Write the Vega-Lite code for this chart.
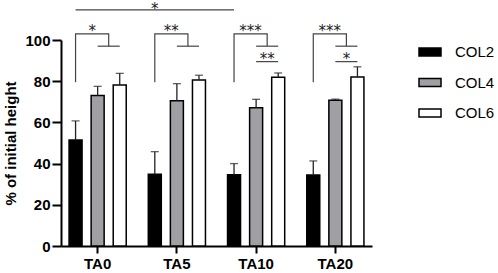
{
  "$schema": "https://vega.github.io/schema/vega-lite/v6.json",
  "width": 311,
  "height": 206,
  "autosize": {"type": "none"},
  "padding": {"left": 61, "top": 40, "right": 126, "bottom": 27},
  "config": {"view": {"stroke": null}, "font": "Liberation Sans"},
  "datasets": {
    "bars": [
      {"group": "TA0", "series": "COL2", "value": 51.5, "upper": 60.7},
      {"group": "TA0", "series": "COL4", "value": 73, "upper": 77.5},
      {"group": "TA0", "series": "COL6", "value": 78.2, "upper": 83.8},
      {"group": "TA5", "series": "COL2", "value": 34.8, "upper": 45.8},
      {"group": "TA5", "series": "COL4", "value": 70.5, "upper": 78.8},
      {"group": "TA5", "series": "COL6", "value": 80.6, "upper": 82.9},
      {"group": "TA10", "series": "COL2", "value": 34.6, "upper": 40},
      {"group": "TA10", "series": "COL4", "value": 67.1, "upper": 71.2},
      {"group": "TA10", "series": "COL6", "value": 81.9, "upper": 84},
      {"group": "TA20", "series": "COL2", "value": 34.5, "upper": 41.3},
      {"group": "TA20", "series": "COL4", "value": 70.8, "upper": 71.3},
      {"group": "TA20", "series": "COL6", "value": 82, "upper": 87}
    ],
    "brackets": [
      {"path": "b0", "order": 1, "group": "TA0", "pos": "COL2", "y": 79.5},
      {"path": "b0", "order": 2, "group": "TA0", "pos": "COL2", "y": 103},
      {"path": "b0", "order": 3, "group": "TA0", "pos": "p6", "y": 103},
      {"path": "b0", "order": 4, "group": "TA0", "pos": "p6", "y": 97},
      {"path": "h0", "order": 1, "group": "TA0", "pos": "COL4", "y": 97},
      {"path": "h0", "order": 2, "group": "TA0", "pos": "COL6", "y": 97},
      {"path": "b1", "order": 1, "group": "TA5", "pos": "COL2", "y": 79.5},
      {"path": "b1", "order": 2, "group": "TA5", "pos": "COL2", "y": 103},
      {"path": "b1", "order": 3, "group": "TA5", "pos": "p6", "y": 103},
      {"path": "b1", "order": 4, "group": "TA5", "pos": "p6", "y": 97},
      {"path": "h1", "order": 1, "group": "TA5", "pos": "COL4", "y": 97},
      {"path": "h1", "order": 2, "group": "TA5", "pos": "COL6", "y": 97},
      {"path": "b2", "order": 1, "group": "TA10", "pos": "COL2", "y": 79.5},
      {"path": "b2", "order": 2, "group": "TA10", "pos": "COL2", "y": 103},
      {"path": "b2", "order": 3, "group": "TA10", "pos": "p6", "y": 103},
      {"path": "b2", "order": 4, "group": "TA10", "pos": "p6", "y": 97},
      {"path": "h2", "order": 1, "group": "TA10", "pos": "COL4", "y": 97},
      {"path": "h2", "order": 2, "group": "TA10", "pos": "COL6", "y": 97},
      {"path": "s2", "order": 1, "group": "TA10", "pos": "COL4", "y": 89.5},
      {"path": "s2", "order": 2, "group": "TA10", "pos": "COL6", "y": 89.5},
      {"path": "b3", "order": 1, "group": "TA20", "pos": "COL2", "y": 79.5},
      {"path": "b3", "order": 2, "group": "TA20", "pos": "COL2", "y": 103},
      {"path": "b3", "order": 3, "group": "TA20", "pos": "p6", "y": 103},
      {"path": "b3", "order": 4, "group": "TA20", "pos": "p6", "y": 97},
      {"path": "h3", "order": 1, "group": "TA20", "pos": "COL4", "y": 97},
      {"path": "h3", "order": 2, "group": "TA20", "pos": "COL6", "y": 97},
      {"path": "s3", "order": 1, "group": "TA20", "pos": "COL4", "y": 89.5},
      {"path": "s3", "order": 2, "group": "TA20", "pos": "COL6", "y": 89.5},
      {"path": "top", "order": 1, "group": "TA0", "pos": "COL2", "y": 114.6},
      {"path": "top", "order": 2, "group": "TA10", "pos": "COL2", "y": 114.6}
    ],
    "stars": [
      {"group": "TA0", "pos": "p3", "y": 102, "label": "*"},
      {"group": "TA5", "pos": "p3", "y": 102, "label": "**"},
      {"group": "TA10", "pos": "p3", "y": 102, "label": "***"},
      {"group": "TA10", "pos": "p6", "y": 88.5, "label": "**"},
      {"group": "TA20", "pos": "p3", "y": 102, "label": "***"},
      {"group": "TA20", "pos": "p6", "y": 88.5, "label": "*"},
      {"group": "TA5", "pos": "COL2", "y": 112.6, "label": "*"}
    ]
  },
  "encoding": {
    "x": {
      "field": "group",
      "type": "nominal",
      "sort": ["TA0", "TA5", "TA10", "TA20"],
      "scale": {"domain": ["TA0", "TA5", "TA10", "TA20"], "paddingInner": 0.373, "paddingOuter": 0.149},
      "axis": {
        "title": null,
        "labelAngle": 0,
        "labelFont": "Liberation Sans",
        "labelFontWeight": "bold",
        "labelFontSize": 15,
        "labelColor": "black",
        "labelPadding": 3,
        "tickSize": 7,
        "tickWidth": 2,
        "tickColor": "black",
        "domainColor": "black",
        "domainWidth": 2
      }
    }
  },
  "layer": [
    {
      "data": {"name": "bars"},
      "mark": {"type": "bar", "width": 13, "stroke": "black", "strokeWidth": 1.5},
      "encoding": {
        "xOffset": {
          "field": "series",
          "type": "nominal",
          "scale": {"domain": ["COL2", "p1", "p2", "p3", "COL4", "p5", "p6", "p7", "COL6"], "paddingInner": 0, "paddingOuter": 0}
        },
        "y": {
          "field": "value",
          "type": "quantitative",
          "scale": {"domain": [0, 100], "nice": false},
          "axis": {
            "title": "% of initial height",
            "titleFont": "Liberation Sans",
            "titleFontSize": 15,
            "titleFontWeight": "bold",
            "titleColor": "black",
            "titlePadding": 6,
            "values": [0, 20, 40, 60, 80, 100],
            "grid": false,
            "labelFont": "Liberation Sans",
            "labelFontWeight": "bold",
            "labelFontSize": 15,
            "labelColor": "black",
            "labelPadding": 2,
            "tickSize": 9,
            "tickWidth": 2,
            "tickColor": "black",
            "domainColor": "black",
            "domainWidth": 2
          }
        },
        "color": {
          "field": "series",
          "type": "nominal",
          "scale": {"domain": ["COL2", "COL4", "COL6"], "range": ["#000000", "#a0a0a4", "#ffffff"]},
          "legend": {
            "title": null,
            "orient": "none",
            "legendX": 357,
            "legendY": 0,
            "symbolType": "M-1,-0.36H1V0.36H-1Z",
            "symbolSize": 484,
            "symbolStrokeColor": "black",
            "symbolStrokeWidth": 1.5,
            "symbolOpacity": 1,
            "labelFont": "Liberation Sans",
            "labelFontSize": 15,
            "labelColor": "black",
            "labelOffset": 13,
            "rowPadding": 10.5
          }
        }
      }
    },
    {
      "data": {"name": "bars"},
      "mark": {"type": "rule", "color": "#222222", "strokeWidth": 1.3},
      "encoding": {
        "xOffset": {"field": "series", "type": "nominal"},
        "y": {"field": "value", "type": "quantitative"},
        "y2": {"field": "upper"}
      }
    },
    {
      "data": {"name": "bars"},
      "mark": {"type": "tick", "color": "#222222", "thickness": 1.3, "size": 8, "orient": "horizontal"},
      "encoding": {
        "xOffset": {"field": "series", "type": "nominal"},
        "y": {"field": "upper", "type": "quantitative"}
      }
    },
    {
      "data": {"name": "brackets"},
      "mark": {"type": "line", "color": "#444444", "strokeWidth": 1.2, "clip": false},
      "encoding": {
        "xOffset": {"field": "pos", "type": "nominal"},
        "y": {"field": "y", "type": "quantitative"},
        "detail": {"field": "path", "type": "nominal"},
        "order": {"field": "order", "type": "quantitative"}
      }
    },
    {
      "data": {"name": "stars"},
      "mark": {"type": "text", "font": "DejaVu Sans", "fontSize": 15, "fill": "#222222", "baseline": "alphabetic", "align": "center"},
      "encoding": {
        "xOffset": {"field": "pos", "type": "nominal"},
        "y": {"field": "y", "type": "quantitative"},
        "text": {"field": "label", "type": "nominal"}
      }
    }
  ]
}
